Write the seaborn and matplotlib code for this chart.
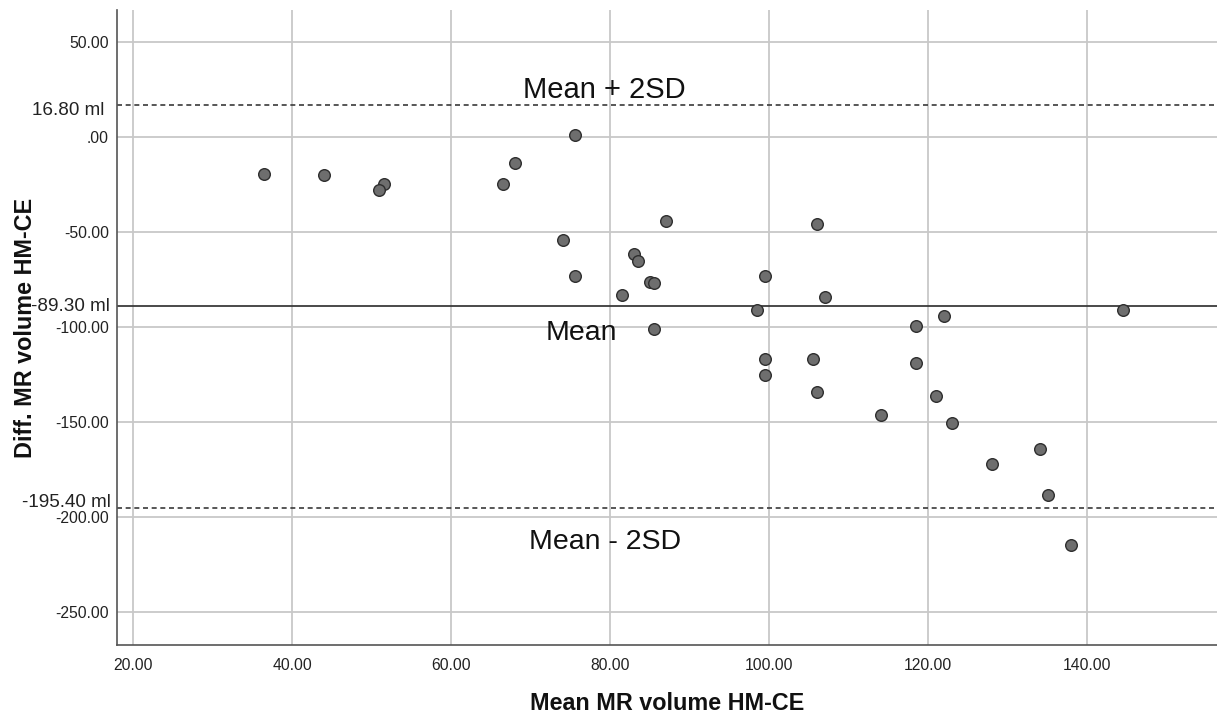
import matplotlib
matplotlib.use("Agg")
import matplotlib.pyplot as plt
import matplotlib.transforms as mtransforms
import seaborn as sns
import pandas as pd

# ---- data ----
mean_vol = [36.5, 44.0, 51.5, 50.9, 75.5, 68.0, 66.5, 87.0, 106.0, 74.0,
            83.0, 83.5, 75.5, 99.5, 85.0, 85.5, 107.0, 81.5, 98.5, 85.5,
            99.5, 105.5, 99.5, 106.0, 144.5, 122.0, 118.5, 118.5, 121.0, 114.0,
            123.0, 134.0, 128.0, 135.0, 138.0]
diff_vol = [-19.6, -20.0, -24.9, -28.0, 0.9, -14.0, -25.1, -44.2, -46.1, -54.2,
            -61.9, -65.2, -73.2, -73.2, -76.3, -77.0, -84.2, -83.1, -91.2, -101.2,
            -117.2, -117.2, -125.4, -134.5, -91.2, -94.2, -99.5, -119.3, -136.5, -146.5,
            -150.5, -164.5, -172.4, -188.6, -214.7]
mean_diff = -89.30
upper_loa = 16.80
lower_loa = -195.40
x_ticks = [20, 40, 60, 80, 100, 120, 140]
x_tick_labels = ["20.00", "40.00", "60.00", "80.00", "100.00", "120.00", "140.00"]
y_ticks = [50, 0, -50, -100, -150, -200, -250]
y_tick_labels = ["50.00", ".00", "-50.00", "-100.00", "-150.00", "-200.00", "-250.00"]
line_labels = ["16.80 ml", "-89.30 ml", "-195.40 ml"]
band_texts = ["Mean + 2SD", "Mean", "Mean - 2SD"]

df = pd.DataFrame({"mean": mean_vol, "diff": diff_vol})

sns.set_style("white")
plt.rcParams["font.family"] = ["Liberation Sans", "DejaVu Sans"]

fig = plt.figure(figsize=(12.17, 7.17), dpi=100)
ax = fig.add_axes([0.0964, 0.1004, 1 - 0.0964, 0.986 - 0.1004])

grid_c = "#c8c8c8"
for xv in x_ticks:
    ax.axvline(xv, color=grid_c, lw=1.3, zorder=0)
for yv in y_ticks:
    ax.axhline(yv, color=grid_c, lw=1.3, zorder=0)

ax.axhline(mean_diff, color="#3a3a3a", lw=1.3, zorder=1)
ax.axhline(upper_loa, color="#3a3a3a", lw=1.2, ls=(0, (3, 2.2)), zorder=1)
ax.axhline(lower_loa, color="#3a3a3a", lw=1.2, ls=(0, (3, 2.2)), zorder=1)

sns.scatterplot(data=df, x="mean", y="diff", ax=ax, s=70, color="#6e6e6e",
                edgecolor="#2e2e2e", linewidth=1.0, zorder=3, legend=False)

ax.set_xlim(18.0, 156.3)
ax.set_ylim(-267.5, 66.7)
ax.set_xticks(x_ticks)
ax.set_xticklabels(x_tick_labels)
ax.set_yticks(y_ticks)
ax.set_yticklabels(y_tick_labels)
ax.tick_params(axis="both", labelsize=11.3, colors="#333333", length=3,
               width=1, pad=3, labelcolor="#222222")
ax.tick_params(axis="x", pad=6)

for side in ["top", "right"]:
    ax.spines[side].set_visible(False)
for side in ["left", "bottom"]:
    ax.spines[side].set_color("#555555")
    ax.spines[side].set_linewidth(1.2)

ax.set_xlabel("Mean MR volume HM-CE", fontsize=16.8, fontweight="bold",
              color="#111111", labelpad=14)
ax.set_ylabel("Diff. MR volume HM-CE", fontsize=16.8, fontweight="bold",
              color="#111111", labelpad=13)

trans = mtransforms.blended_transform_factory(ax.transAxes, ax.transData)
ax.text(-0.012, upper_loa - 3, line_labels[0], transform=trans, ha="right",
        va="center", fontsize=13.6, color="#222222")
ax.text(-0.007, mean_diff, line_labels[1], transform=trans, ha="right",
        va="center", fontsize=13.6, color="#222222")
ax.text(-0.006, lower_loa + 3, line_labels[2], transform=trans, ha="right",
        va="center", fontsize=13.6, color="#222222")

ax.text(79.3, 24.5, band_texts[0], ha="center", va="center", fontsize=21,
        color="#111111")
ax.text(76.3, -103.3, band_texts[1], ha="center", va="center", fontsize=20.5,
        color="#111111")
ax.text(79.3, -213.2, band_texts[2], ha="center", va="center", fontsize=20.5,
        color="#111111")

fig.savefig("out.png", dpi=100, facecolor="white")
